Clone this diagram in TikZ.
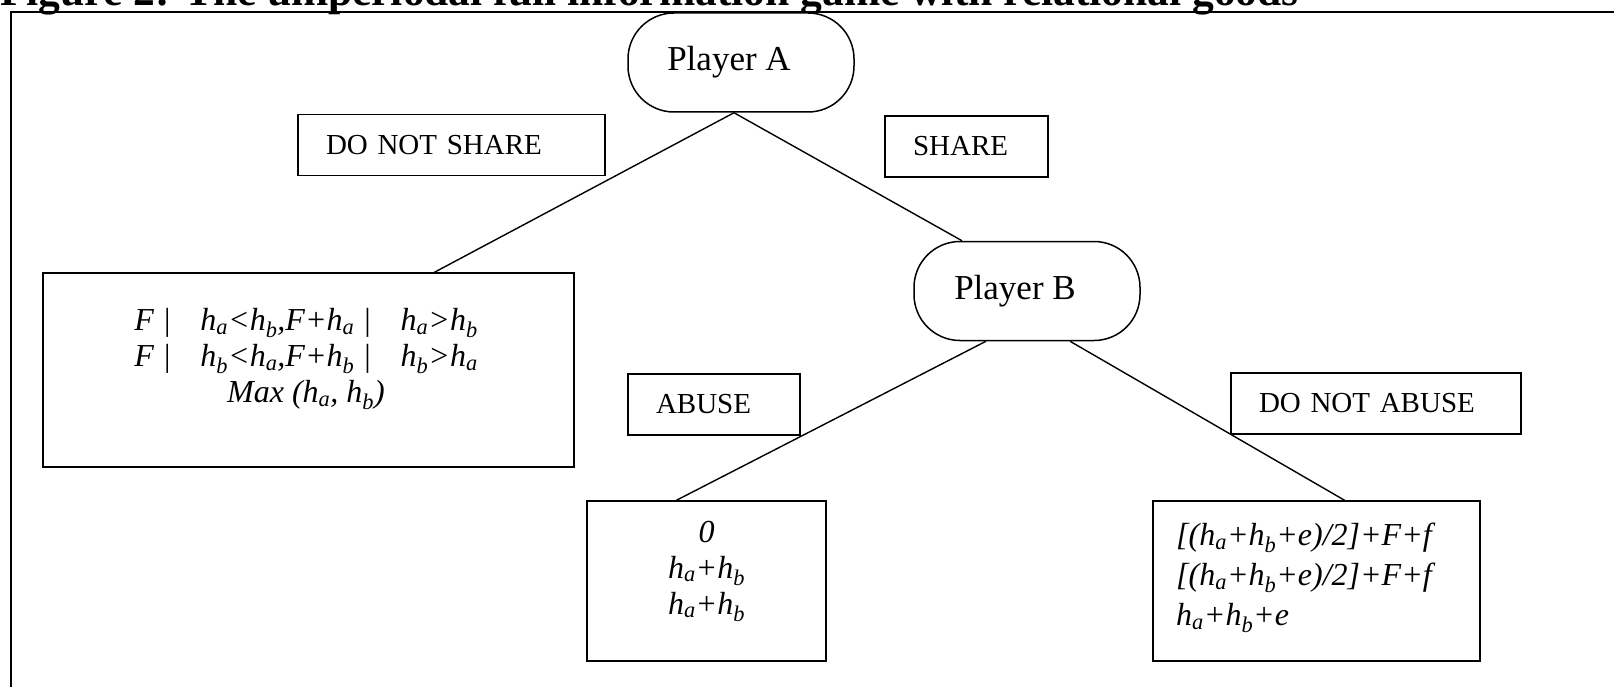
\documentclass[tikz,border=0pt]{standalone}
\usepackage{fontspec}
\setmainfont{Liberation Serif}
\usetikzlibrary{positioning,calc}

\newcommand{\hsub}[1]{\textit{h}\textsubscript{\textit{#1}}}

\tikzset{
  player/.style={draw, line width=1.5pt, rounded corners=46pt, minimum width=226pt, minimum height=99pt, font=\fontsize{35}{40}\selectfont},
  move/.style={draw, line width=1.5pt, inner xsep=28pt, minimum height=61pt, align=left, font=\fontsize{29}{34}\selectfont},
  payoff/.style={draw, line width=1.5pt},
  payofftext/.style={inner sep=0pt, font=\fontsize{32}{36}\selectfont\itshape},
  branch/.style={line width=1.4pt}
}

\begin{document}
\begin{tikzpicture}[x=1pt,y=-1pt]
    \clip (0,0) rectangle (1614,687);

    % Title, cut at the top
    \node [anchor=base west, inner sep=0pt, font=\fontsize{43.5}{48}\selectfont\bfseries] (title) at (0,6) {Figure 2: The uniperiodal full information game with relational goods};

    % Frame
    \draw [line width=1.6pt] (11,700) -- (11,12) -- (1620,12);

    % Players
    \node [player, fill=white] (pa) at (741,62.5) {Player A\kern24pt};
    \node [player] (pb) at (1027,291) {Player B\kern24pt};

    % Moves
    \node [move, text width=251pt] (noshare) at (451.5,145) {DO NOT SHARE};
    \node [move, text width=107pt] (share) at (966.5,146.5) {SHARE};
    \node [move, text width=116pt] (abuse) at (714,404.5) {ABUSE};
    \node [move, text width=234pt] (noabuse) at (1376,403.5) {DO NOT ABUSE};

    % Payoffs
    \node [payoff, minimum width=531pt, minimum height=194pt] (out1) at (308.5,370) {};
    \node [payofftext, align=center] (out1txt) at (306,359) {F\hspace{10pt}\textup{|}\hspace{30pt}\hsub{a}<\hsub{b},F+\hsub{a}\hspace{10pt}\textup{|}\hspace{30pt}\hsub{a}>\hsub{b}\\
      F\hspace{10pt}\textup{|}\hspace{30pt}\hsub{b}<\hsub{a},F+\hsub{b}\hspace{10pt}\textup{|}\hspace{30pt}\hsub{b}>\hsub{a}\\
      Max (\hsub{a}, \hsub{b})};

    \node [payoff, minimum width=239pt, minimum height=160pt] (out2) at (706.5,581) {};
    \node [payofftext, align=center] (out2txt) at (706.5,571) {0\\ \hsub{a}+\hsub{b}\\ \hsub{a}+\hsub{b}};

    \node [payoff, minimum width=327pt, minimum height=160pt] (out3) at (1316.5,581) {};
    \node [payofftext, align=left, anchor=west, font=\fontsize{32}{40}\selectfont\itshape] (out3txt) at (1176,578) {{[}(\hsub{a}+\hsub{b}+e)/2]+F+f\\ {[}(\hsub{a}+\hsub{b}+e)/2]+F+f\\ \hsub{a}+\hsub{b}+e};

    % Branches
    \draw [branch] ([xshift=-7pt]pa.south) -- ([xshift=126pt]out1.north);
    \draw [branch] ([xshift=-7pt]pa.south) -- ([xshift=-65pt]pb.north);
    \draw [branch] ([xshift=-41pt]pb.south) -- ([xshift=-30pt]out2.north);
    \draw [branch] ([xshift=43pt]pb.south) -- ([xshift=28pt]out3.north);
\end{tikzpicture}
\end{document}
